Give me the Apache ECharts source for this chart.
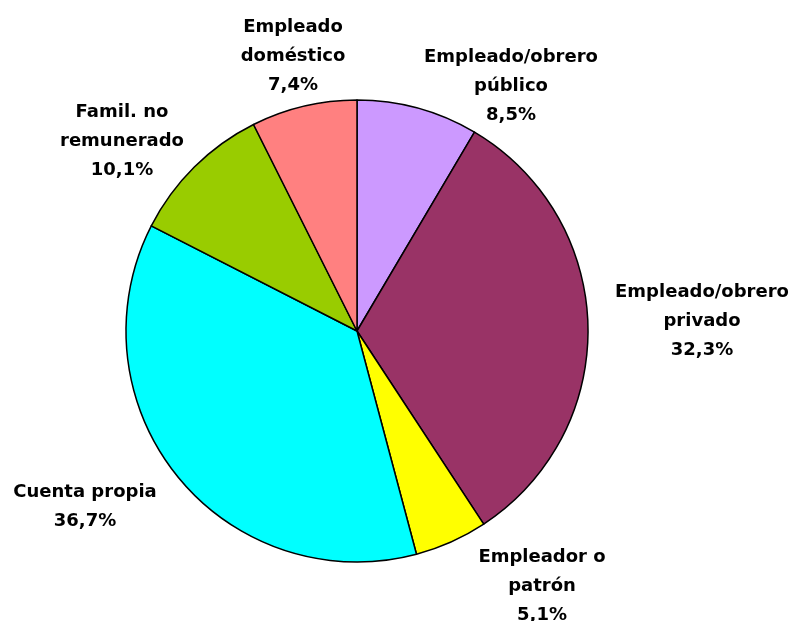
<!DOCTYPE html>
<html>
<head>
<meta charset="utf-8">
<script src="https://cdn.jsdelivr.net/npm/echarts@6/dist/echarts.min.js"></script>
<style>
  html, body { margin: 0; padding: 0; background: #fff; }
  #chart { width: 797px; height: 621px; }
</style>
</head>
<body>
<div id="chart"></div>
<script>
// categories, clockwise from 12 o'clock
var categories = [
  'Empleado/obrero\npúblico',
  'Empleado/obrero\nprivado',
  'Empleador o\npatrón',
  'Cuenta propia',
  'Famil. no\nremunerado',
  'Empleado\ndoméstico'
]
var shares = [8.5, 32.3, 5.1, 36.7, 10.1, 7.4]
var colors = ['#CC99FF', '#993366', '#FFFF00', '#00FFFF', '#99CC00', '#FF8080']

// where each label sits (centre of text block)
var labelSpots = [
  [511, 86], [702, 321], [542, 586], [85, 507], [122, 141], [293, 56]
]

var chart = echarts.init(document.getElementById('chart'))

var pieData = categories.map(function (name, i) {
  return { name: name, value: shares[i], itemStyle: { color: colors[i] } }
})

chart.setOption({
  animation: false,
  backgroundColor: '#fff',
  series: [{
    type: 'pie',
    center: [357, 331],
    radius: 231,
    startAngle: 90,
    clockwise: true,
    data: pieData,
    itemStyle: { borderColor: '#000', borderWidth: 1.5 },
    label: {
      show: true,
      position: 'outside',
      color: '#000',
      fontFamily: 'DejaVu Sans, sans-serif',
      fontWeight: 'bold',
      fontSize: 18,
      lineHeight: 29,
      align: 'center',
      overflow: 'none',
      formatter: function (p) {
        return p.name + '\n' + p.value.toFixed(1).replace('.', ',') + '%'
      }
    },
    labelLine: { show: false },
    labelLayout: function (params) {
      var s = labelSpots[params.dataIndex]
      return { x: s[0], y: s[1], align: 'center', verticalAlign: 'middle' }
    },
    emphasis: { disabled: true }
  }]
})
</script>
</body>
</html>
